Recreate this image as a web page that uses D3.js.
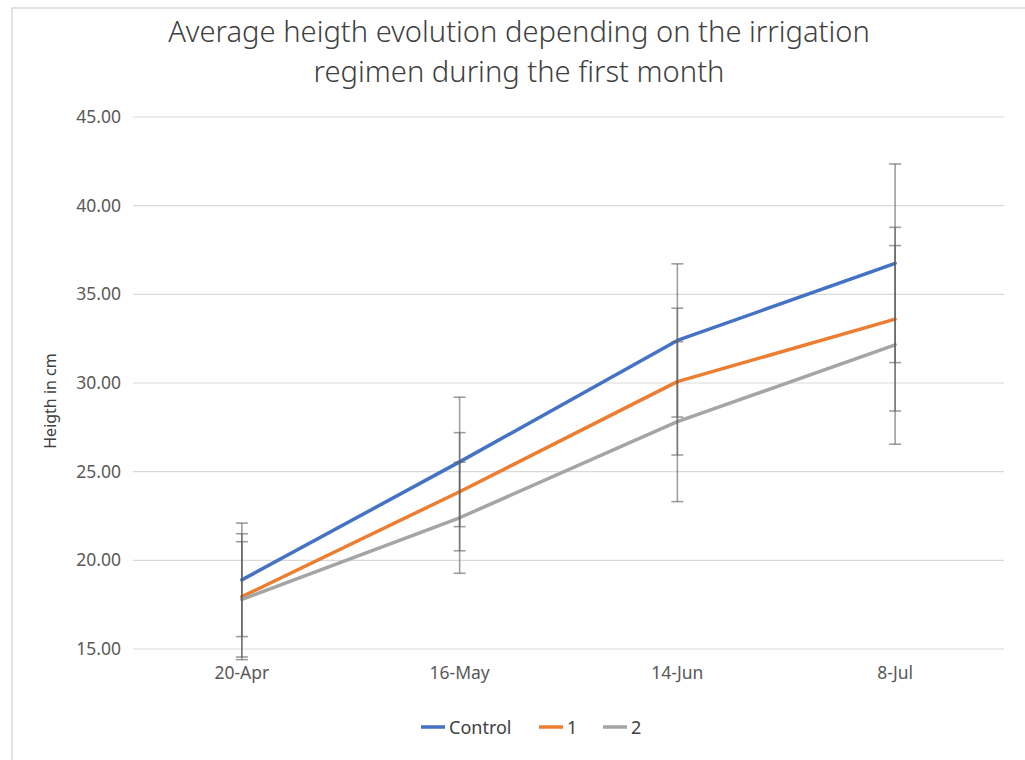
<!DOCTYPE html>
<html>
<head>
<meta charset="utf-8">
<script src="https://cdn.jsdelivr.net/npm/d3@7"></script>
<style>
  html, body { margin: 0; padding: 0; background: #fff; }
  svg { display: block; }
  text { font-family: "Noto Sans", "DejaVu Sans", sans-serif; }
</style>
</head>
<body>
<svg id="chart" width="1025" height="760"></svg>
<script>
const categories = ["20-Apr", "16-May", "14-Jun", "8-Jul"];
const seriesNames = ["Control", "1", "2"];
const seriesColors = ["#4472C4", "#ED7D31", "#A5A5A5"];
const controlValues = [18.9, 25.55, 32.4, 36.75];
const regime1Values = [17.95, 23.87, 30.08, 33.6];
const regime2Values = [17.8, 22.4, 27.82, 32.15];
const controlErrors = [3.2, 3.65, 4.32, 5.6];
const regime1Errors = [3.55, 3.33, 4.14, 5.18];
const regime2Errors = [3.25, 3.13, 4.51, 5.6];
const yTicks = [15, 20, 25, 30, 35, 40, 45];
const titleLines = ["Average heigth evolution depending on the irrigation", "regimen during the first month"];
const yAxisTitle = "Heigth in cm";

const series = [
  { name: seriesNames[0], color: seriesColors[0], values: controlValues, errors: controlErrors },
  { name: seriesNames[1], color: seriesColors[1], values: regime1Values, errors: regime1Errors },
  { name: seriesNames[2], color: seriesColors[2], values: regime2Values, errors: regime2Errors }
];

const svg = d3.select("#chart");
const plot = { left: 133, right: 1004, top: 117, bottom: 649 };

// outer chart border
svg.append("path")
  .attr("d", `M12,760 L12,8 L1025,8`)
  .attr("fill", "none").attr("stroke", "#d9d9d9").attr("stroke-width", 1.5);

const x = d3.scaleBand().domain(categories).range([plot.left, plot.right]);
const y = d3.scaleLinear().domain([15, 45]).range([plot.bottom, plot.top]);

// gridlines
svg.append("g").selectAll("line").data(yTicks).join("line")
  .attr("x1", plot.left).attr("x2", plot.right)
  .attr("y1", d => y(d)).attr("y2", d => y(d))
  .attr("stroke", "#d9d9d9").attr("stroke-width", 1.2);

// y axis labels
const yAxis = d3.axisLeft(y).tickValues(yTicks).tickFormat(d3.format(".2f")).tickSize(0).tickPadding(12);
const gy = svg.append("g").attr("transform", `translate(${plot.left},0)`).call(yAxis);
gy.select(".domain").remove();
gy.selectAll("text").attr("font-size", 17.5).attr("fill", "#595959")
  .attr("font-family", '"Noto Sans", sans-serif');

// x axis labels
const xAxis = d3.axisBottom(x).tickSize(0).tickPadding(18);
const gx = svg.append("g").attr("transform", `translate(0,${plot.bottom})`).call(xAxis);
gx.select(".domain").remove();
gx.selectAll("text").attr("font-size", 17.5).attr("fill", "#595959")
  .attr("font-family", '"Noto Sans", sans-serif');

const cx = d => x(d) + x.bandwidth() / 2;

// lines
const line = d3.line().x((d, i) => cx(categories[i])).y(d => y(d));
series.forEach(s => {
  svg.append("path").datum(s.values)
    .attr("d", line)
    .attr("fill", "none").attr("stroke", s.color).attr("stroke-width", 3.5)
    .attr("stroke-linejoin", "round").attr("stroke-linecap", "round");
});

// error bars
const eb = svg.append("g").attr("stroke", "#5f5f5f").attr("stroke-opacity", 0.6).attr("stroke-width", 1.6);
series.forEach(s => {
  s.values.forEach((v, i) => {
    const px = cx(categories[i]);
    const hi = y(v + s.errors[i]), lo = y(v - s.errors[i]);
    eb.append("line").attr("x1", px).attr("x2", px).attr("y1", hi).attr("y2", lo);
    eb.append("line").attr("x1", px - 6).attr("x2", px + 6).attr("y1", hi).attr("y2", hi);
    eb.append("line").attr("x1", px - 6).attr("x2", px + 6).attr("y1", lo).attr("y2", lo);
  });
});

// title
const titleG = svg.append("g");
const titleTexts = titleLines.map((t, i) => titleG.append("text")
  .attr("x", 519).attr("y", 42 + i * 40)
  .attr("text-anchor", "middle").attr("fill", "#404040")
  .attr("font-size", 26).attr("font-weight", 300)
  .text(t));
const w0 = titleTexts[0].node().getComputedTextLength();
const fs = 26 * 702 / w0;
titleTexts.forEach(t => t.attr("font-size", fs));

// y axis title
svg.append("text")
  .attr("transform", `translate(56,401) rotate(-90)`)
  .attr("text-anchor", "middle").attr("font-size", 16).attr("fill", "#404040")
  .text(yAxisTitle);

// legend
const legendItems = [
  { name: seriesNames[0], color: seriesColors[0], x: 421 },
  { name: seriesNames[1], color: seriesColors[1], x: 539 },
  { name: seriesNames[2], color: seriesColors[2], x: 603 }
];
const lg = svg.append("g");
legendItems.forEach(it => {
  lg.append("line").attr("x1", it.x).attr("x2", it.x + 24).attr("y1", 727).attr("y2", 727)
    .attr("stroke", it.color).attr("stroke-width", 3.5);
  lg.append("text").attr("x", it.x + 28).attr("y", 734).attr("font-size", 18).attr("fill", "#404040")
    .text(it.name);
});
</script>
</body>
</html>
